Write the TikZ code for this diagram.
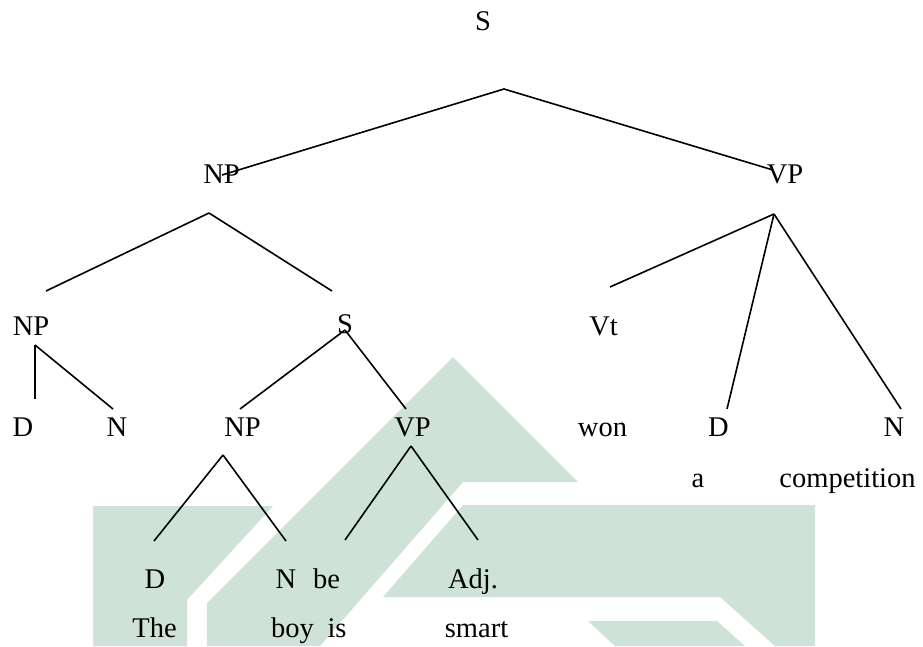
\documentclass[tikz,border=0pt]{standalone}
\usepackage{fontspec}
\setmainfont{Liberation Serif}
\usepackage{tikz}
\definecolor{wmgreen}{RGB}{207,226,215}
\newcommand{\treefont}{\fontsize{28.5}{34}\selectfont}

\begin{document}
\begin{tikzpicture}[x=1pt, y=-1pt,
    label/.style={font=\treefont, anchor=base, inner sep=0pt},
    branch/.style={line width=1.6pt}]
  \useasboundingbox (0,0) rectangle (923,646);
  % watermark behind the tree
  \fill[wmgreen] (93,506) -- (273,506) -- (187,600) -- (187,646) -- (93,646) -- cycle;
  \fill[wmgreen] (453,357) -- (578,482) -- (463,482) -- (320,646) -- (207,646) -- (207,603) -- cycle;
  \fill[wmgreen] (463,505) -- (815,505) -- (815,646) -- (775,646) -- (720,597) -- (383,597) -- cycle;
  \fill[wmgreen] (588,621) -- (717,621) -- (745,646) -- (615,646) -- cycle;
  % category labels and words
  \foreach \name/\x/\y/\txt in {s/483/30/S, np/221.5/183/NP, vp/785/183/VP,
      npa/31/335/NP, sb/345/333/S, vt/603.5/335/Vt,
      da/23/436/D, na/117/436/N, npb/242.5/436/NP, vpb/412.5/436/VP,
      won/602.5/436/won, db/718.5/436/D, nb/894/436/N,
      a/698/487/a, comp/847.5/487/competition,
      dc/155/588/D, nc/286/588/N, be/326.5/588/be, adj/473/588/Adj.,
      the/154.5/637/The, boy/292.5/637/boy, is/337/637/is, smart/476.5/637/smart} {
    \node[label] (\name) at (\x,\y) {\txt};
  }
  % joints and ends of the branches
  \foreach \name/\x/\y in {s-j/504/89, s-l/222/175, s-r/773/170,
      np-j/209/213, np-l/46/291, np-r/332/291,
      vp-j/774/214, vp-l/610/287, vp-m/727/409, vp-r/901/409,
      npa-j/35/345, npa-l/35/399, npa-r/113/409,
      sb-j/345/330, sb-l/240/409, sb-r/406/409,
      npb-j/223/455, npb-l/154/541, npb-r/286/541,
      vpb-j/411/446, vpb-l/345/540, vpb-r/478/540} {
    \coordinate (\name) at (\x,\y);
  }
  % branches
  \foreach \j/\e in {s-j/s-l, s-j/s-r, np-j/np-l, np-j/np-r,
      vp-j/vp-l, vp-j/vp-m, vp-j/vp-r, npa-j/npa-l, npa-j/npa-r,
      sb-j/sb-l, sb-j/sb-r, npb-j/npb-l, npb-j/npb-r, vpb-j/vpb-l, vpb-j/vpb-r} {
    \draw[branch] (\j) -- (\e);
  }
\end{tikzpicture}
\end{document}
